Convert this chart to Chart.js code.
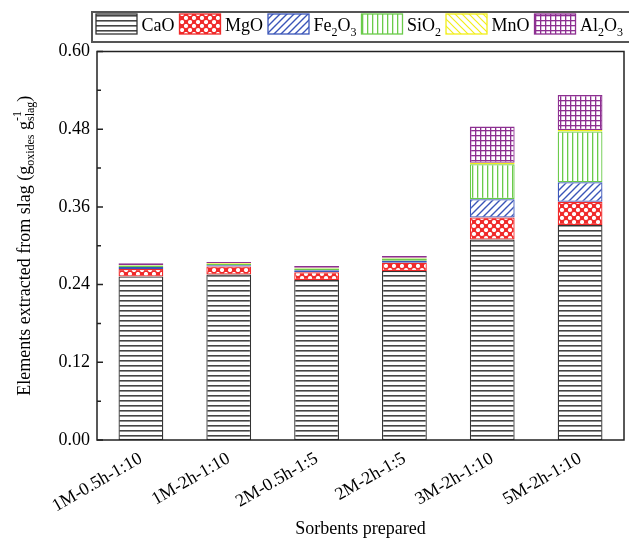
<!DOCTYPE html>
<html>
<head>
<meta charset="utf-8">
<script src="https://cdn.jsdelivr.net/npm/chart.js@4.4.1/dist/chart.umd.min.js"></script>
<style>
  html, body { margin: 0; padding: 0; background: #fff; }
</style>
</head>
<body>
<canvas id="chart" width="629" height="540"></canvas>
<script>
// sorbent samples on the x axis
const categories = ['1M-0.5h-1:10', '1M-2h-1:10', '2M-0.5h-1:5', '2M-2h-1:5', '3M-2h-1:10', '5M-2h-1:10'];

// oxides extracted (g oxides / g slag), stacked bottom -> top
const seriesNames = ['CaO', 'MgO', 'Fe2O3', 'SiO2', 'MnO', 'Al2O3'];
const caO   = [0.2525, 0.2556, 0.2471, 0.2610, 0.3097, 0.3320];
const mgO   = [0.0116, 0.0124, 0.0119, 0.0128, 0.0340, 0.0360];
const fe2O3 = [0.0030, 0.0020, 0.0030, 0.0030, 0.0283, 0.0300];
const siO2  = [0.0023, 0.0020, 0.0030, 0.0035, 0.0540, 0.0785];
const mnO   = [0.0010, 0.0010, 0.0010, 0.0010, 0.0020, 0.0023];
const al2O3 = [0.0025, 0.0020, 0.0027, 0.0030, 0.0560, 0.0540];

const yTicks = [0, 0.12, 0.24, 0.36, 0.48, 0.60];

const serif = "'Liberation Serif', 'Times New Roman', serif";
const canvas = document.getElementById('chart');
const ctx = canvas.getContext('2d');

function makePattern(w, h, draw) {
    const c = document.createElement('canvas');
    c.width = w;
    c.height = h;
    const g = c.getContext('2d');
    g.fillStyle = '#fff';
    g.fillRect(0, 0, w, h);
    draw(g, w, h);
    return ctx.createPattern(c, 'repeat');
}

const colors = ['#333333', '#f02a2a', '#3a55b8', '#6acb4a', '#f2ee1a', '#8d2f91'];

const patterns = [
    // CaO: horizontal lines
    makePattern(8, 5, (g, w) => {
        g.fillStyle = '#444';
        g.fillRect(0, 0, w, 1.6);
    }),
    // MgO: red with white holes
    makePattern(8, 8, (g, w, h) => {
        g.fillStyle = colors[1];
        g.fillRect(0, 0, w, h);
        g.fillStyle = '#fff';
        [[2, 2], [6, 6]].forEach(([x, y]) => {
            g.beginPath();
            g.arc(x, y, 2.1, 0, Math.PI * 2);
            g.fill();
        });
    }),
    // Fe2O3: forward diagonals
    makePattern(7, 7, (g, w, h) => {
        g.strokeStyle = colors[2];
        g.lineWidth = 1.4;
        g.beginPath();
        g.moveTo(-1, h + 1); g.lineTo(w + 1, -1);
        g.moveTo(-1, 1); g.lineTo(1, -1);
        g.moveTo(w - 1, h + 1); g.lineTo(w + 1, h - 1);
        g.stroke();
    }),
    // SiO2: vertical lines
    makePattern(5, 5, (g, w, h) => {
        g.fillStyle = colors[3];
        g.fillRect(2, 0, 1.3, h);
    }),
    // MnO: back diagonals
    makePattern(7, 7, (g, w, h) => {
        g.strokeStyle = colors[4];
        g.lineWidth = 1.2;
        g.beginPath();
        g.moveTo(-1, -1); g.lineTo(w + 1, h + 1);
        g.moveTo(w - 1, -1); g.lineTo(w + 1, 1);
        g.moveTo(-1, h - 1); g.lineTo(1, h + 1);
        g.stroke();
    }),
    // Al2O3: grid
    makePattern(5, 5, (g, w, h) => {
        g.fillStyle = colors[5];
        g.fillRect(0, 0, w, 1.3);
        g.fillRect(0, 0, 1.3, h);
    })
];

const values = [caO, mgO, fe2O3, siO2, mnO, al2O3];

// draws text where digits become subscripts, returns width
function richText(g, str, x, y, size, draw) {
    let cx = x;
    str.split(/(\d+)/).filter(s => s).forEach(part => {
        const sub = /^\d+$/.test(part);
        g.font = (sub ? Math.round(size * 0.68) : size) + 'px ' + serif;
        if (draw) g.fillText(part, cx, sub ? y + size * 0.32 : y);
        cx += g.measureText(part).width;
    });
    return cx - x;
}

const legendBox = {
    id: 'legendBox',
    afterDraw(chart) {
        const g = chart.ctx;
        g.save();
        g.strokeStyle = '#555';
        g.lineWidth = 2;
        g.strokeRect(92, 12, 560, 30);
        let x = 96;
        g.textBaseline = 'alphabetic';
        seriesNames.forEach((name, i) => {
            g.fillStyle = patterns[i];
            g.fillRect(x, 14, 41, 20);
            g.strokeStyle = colors[i];
            g.lineWidth = 1.3;
            g.strokeRect(x, 14, 41, 20);
            x += 45.5;
            g.fillStyle = '#000';
            x += richText(g, name, x, 30.5, 18, true) + 5;
        });
        g.restore();
    }
};

const frame = {
    id: 'frame',
    afterDraw(chart) {
        const g = chart.ctx;
        const {left, right, top, bottom} = chart.chartArea;
        const y = chart.scales.y;
        g.save();
        g.strokeStyle = '#222';
        g.lineWidth = 1.5;
        g.strokeRect(left, top, right - left, bottom - top);
        // inward ticks, with minor ticks halfway
        g.beginPath();
        yTicks.forEach((v, i) => {
            const py = y.getPixelForValue(v);
            g.moveTo(left, py); g.lineTo(left + 6, py);
            if (i < yTicks.length - 1) {
                const pm = y.getPixelForValue((v + yTicks[i + 1]) / 2);
                g.moveTo(left, pm); g.lineTo(left + 4, pm);
            }
        });
        g.stroke();

        // y axis title with sub/superscripts
        const main = '18px ' + serif, small = '12px ' + serif;
        const pieces = [
            {t: 'Elements extracted from slag (g', f: main, dy: 0},
            {t: 'oxides', f: small, dy: 4},
            {t: ' g', f: main, dy: 0},
            {t: 'slag', f: small, dy: 4, sup: '-1'},
            {t: ')', f: main, dy: 0}
        ];
        let total = 0;
        pieces.forEach(p => { g.font = p.f; p.w = g.measureText(p.t).width; total += p.w; });
        g.translate(24, (top + bottom) / 2);
        g.rotate(-Math.PI / 2);
        g.fillStyle = '#000';
        g.textBaseline = 'alphabetic';
        let x = -total / 2;
        pieces.forEach(p => {
            g.font = p.f;
            g.fillText(p.t, x, 6 + p.dy);
            if (p.sup) g.fillText(p.sup, x, 6 - 9);
            x += p.w;
        });
        g.restore();
    }
};

new Chart(ctx, {
    type: 'bar',
    data: {
        labels: categories,
        datasets: seriesNames.map((name, i) => ({
            label: name,
            data: values[i],
            backgroundColor: patterns[i],
            borderColor: colors[i],
            borderWidth: 1.3,
            borderSkipped: false,
            categoryPercentage: 1,
            barPercentage: 0.51
        }))
    },
    options: {
        responsive: false,
        animation: false,
        layout: {padding: {top: 51.5, right: 5, left: 0, bottom: 0}},
        scales: {
            x: {
                stacked: true,
                grid: {display: false, drawTicks: false},
                border: {display: false},
                ticks: {
                    color: '#000',
                    font: {family: serif, size: 18},
                    minRotation: 30,
                    maxRotation: 30,
                    padding: 8
                },
                title: {
                    display: true,
                    text: 'Sorbents prepared',
                    color: '#000',
                    font: {family: serif, size: 18},
                    padding: {top: 0, bottom: 0}
                },
                afterFit: (s) => { s.height = 100; }
            },
            y: {
                stacked: true,
                min: 0,
                max: 0.6,
                grid: {display: false, drawTicks: false},
                border: {display: false},
                ticks: {
                    stepSize: 0.12,
                    color: '#000',
                    font: {family: serif, size: 18},
                    padding: 7,
                    callback: (v) => Number(v).toFixed(2)
                },
                afterFit: (s) => { s.width = 97; }
            }
        },
        plugins: {
            legend: {display: false},
            tooltip: {enabled: false}
        }
    },
    plugins: [legendBox, frame]
});
</script>
</body>
</html>
